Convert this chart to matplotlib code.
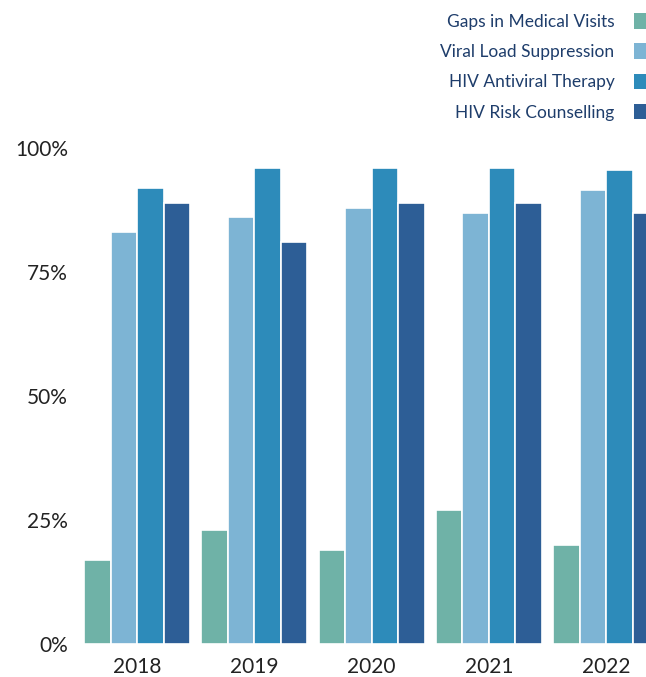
import numpy as np
import matplotlib.pyplot as plt
from matplotlib.patches import Patch

years = ["2018", "2019", "2020", "2021", "2022"]
series = ["Gaps in Medical Visits", "Viral Load Suppression",
          "HIV Antiviral Therapy", "HIV Risk Counselling"]
gaps = [17, 23, 19, 27, 20]
viral = [83, 86, 88, 87, 91.5]
art = [92, 96, 96, 96, 95.5]
risk = [89, 81, 89, 89, 87]
colors = ["#6fb2a7", "#7db4d4", "#2d8bba", "#2d5e96"]

fig = plt.figure(figsize=(6.46, 6.77), dpi=100)
ax = fig.add_axes([75 / 646, 32.7 / 677, 1 - 75 / 646, 496.3 / 677])

x = np.arange(len(years))
w = 0.226
for i, vals in enumerate([gaps, viral, art, risk]):
    ax.bar(x + (i - 1.5) * w, vals, width=w, color=colors[i],
           edgecolor="white", linewidth=1.2)

ax.set_xlim(-0.529, 4.339)
ax.set_ylim(0, 100)
ax.set_yticks([0, 25, 50, 75, 100])
ax.set_yticklabels(["0%", "25%", "50%", "75%", "100%"])
ax.set_xticks(x)
ax.set_xticklabels(years)
for s in ax.spines.values():
    s.set_visible(False)
ax.tick_params(axis="both", length=0, labelsize=15, labelcolor="#222222",
               labelfontfamily="Lato")
ax.tick_params(axis="y", pad=5)
ax.tick_params(axis="x", pad=9)

handles = [Patch(facecolor=c) for c in colors]
fig.legend(handles, series, loc="upper right", bbox_to_anchor=(664 / 646, 1.0),
           frameon=False, markerfirst=False,
           prop={"family": "Lato", "size": 12.5},
           handlelength=1.0, handleheight=1.0, handletextpad=1.1,
           labelspacing=0.78, borderpad=0.25, labelcolor="#1e3d6b")

fig.savefig("out.png", dpi=100)
